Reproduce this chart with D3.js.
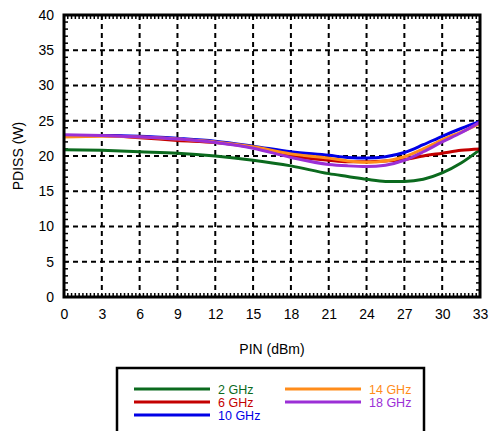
<!DOCTYPE html>
<html><head><meta charset="utf-8">
<script src="https://cdn.jsdelivr.net/npm/d3@7"></script>
<style>body{margin:0;background:#fff;} svg{display:block;font-family:"Liberation Sans",Arial,sans-serif;}</style>
</head><body>
<script>
const pin = [0,3,6,9,12,15,18,21,22.5,24,25.5,27,28.5,30,31.5,33];
const ghz2  = [20.9,20.8,20.6,20.4,20.0,19.4,18.6,17.5,17.1,16.7,16.4,16.4,16.7,17.6,19.0,20.9];
const ghz6  = [22.8,22.9,22.6,22.2,21.9,21.2,20.0,19.4,19.2,19.2,19.3,19.5,20.0,20.4,20.8,21.0];
const ghz10 = [22.9,22.9,22.8,22.5,22.1,21.4,20.6,20.1,19.8,19.7,19.9,20.5,21.6,22.8,23.9,24.9];
const ghz14 = [22.7,22.8,22.7,22.4,22.0,21.3,20.3,19.7,19.3,19.1,19.3,19.9,21.0,22.3,23.4,24.6];
const ghz18 = [23.0,22.9,22.7,22.4,21.9,21.1,19.8,18.8,18.6,18.5,18.7,19.4,20.6,22.0,23.3,24.8];
const seriesNames = ["2 GHz","6 GHz","10 GHz","14 GHz","18 GHz"];
const seriesColors = ["#0b6a1e","#c40000","#0000e6","#ff8c1a","#9b2fd6"];
const xTicks = [0,3,6,9,12,15,18,21,24,27,30,33];
const yTicks = [0,5,10,15,20,25,30,35,40];

const W=494,H=431;
const svg=d3.select("body").append("svg").attr("width",W).attr("height",H);
const x=d3.scaleLinear().domain([0,33]).range([64,480]);
const y=d3.scaleLinear().domain([0,40]).range([297,15]);

// grid
const g=svg.append("g");
g.selectAll(".vg").data(xTicks.filter(d=>d>0&&d<33)).enter().append("line")
 .attr("x1",d=>x(d)).attr("x2",d=>x(d)).attr("y1",y(40)).attr("y2",y(0))
 .attr("stroke","#000").attr("stroke-width",2).attr("stroke-dasharray","5,4");
g.selectAll(".hg").data(yTicks.filter(d=>d>0&&d<40)).enter().append("line")
 .attr("y1",d=>y(d)).attr("y2",d=>y(d)).attr("x1",x(0)).attr("x2",x(33))
 .attr("stroke","#000").attr("stroke-width",2).attr("stroke-dasharray","5,4");

// minor ticks
const xm=d3.range(0,33.01,0.3), ym=d3.range(0,40.01,1);
g.selectAll(".xmb").data(xm).enter().append("line").attr("x1",d=>x(d)).attr("x2",d=>x(d)).attr("y1",y(0)).attr("y2",y(0)-4).attr("stroke","#000").attr("stroke-width",1.5);
g.selectAll(".xmt").data(xm).enter().append("line").attr("x1",d=>x(d)).attr("x2",d=>x(d)).attr("y1",y(40)).attr("y2",y(40)+4).attr("stroke","#000").attr("stroke-width",1.5);
g.selectAll(".yml").data(ym).enter().append("line").attr("y1",d=>y(d)).attr("y2",d=>y(d)).attr("x1",x(0)).attr("x2",x(0)+4).attr("stroke","#000").attr("stroke-width",1.5);
g.selectAll(".ymr").data(ym).enter().append("line").attr("y1",d=>y(d)).attr("y2",d=>y(d)).attr("x1",x(33)).attr("x2",x(33)-4).attr("stroke","#000").attr("stroke-width",1.5);

// lines
const all=[ghz2,ghz6,ghz10,ghz14,ghz18];
const line=d3.line().x((d,i)=>x(pin[i])).y(d=>y(d)).curve(d3.curveMonotoneX);
all.forEach((s,k)=>{
  svg.append("path").datum(s).attr("d",line).attr("fill","none")
   .attr("stroke",seriesColors[k]).attr("stroke-width",3).attr("stroke-linejoin","round");
});

// frame
svg.append("rect").attr("x",x(0)).attr("y",y(40)).attr("width",x(33)-x(0)).attr("height",y(0)-y(40))
 .attr("fill","none").attr("stroke","#000").attr("stroke-width",3);

// axes labels
const xa=svg.append("g").attr("transform",`translate(0,${y(0)})`)
 .call(d3.axisBottom(x).tickValues(xTicks).tickSize(0).tickPadding(12));
xa.select(".domain").remove();
xa.selectAll("text").attr("font-size",14).attr("fill","#000").attr("font-family","Liberation Sans, Arial, sans-serif");
const ya=svg.append("g").attr("transform",`translate(${x(0)},0)`)
 .call(d3.axisLeft(y).tickValues(yTicks).tickSize(0).tickPadding(10));
ya.select(".domain").remove();
ya.selectAll("text").attr("font-size",14).attr("fill","#000").attr("font-family","Liberation Sans, Arial, sans-serif");

svg.append("text").attr("x",272).attr("y",354).attr("text-anchor","middle").attr("font-size",14).text("PIN (dBm)");
svg.append("text").attr("transform","translate(23,156) rotate(-90)").attr("text-anchor","middle").attr("font-size",14).text("PDISS (W)");

// legend
svg.append("rect").attr("x",117).attr("y",368).attr("width",307).attr("height",80)
 .attr("fill","#fff").attr("stroke","#000").attr("stroke-width",2.5);
const legPos=[[134,389],[134,402],[134,415],[285,389],[285,402]];
seriesNames.forEach((n,k)=>{
  const [lx,ly]=legPos[k];
  svg.append("line").attr("x1",lx).attr("x2",lx+76).attr("y1",ly).attr("y2",ly).attr("stroke",seriesColors[k]).attr("stroke-width",3);
  svg.append("text").attr("x",lx+84).attr("y",ly+4.5).attr("font-size",12.5).attr("fill",seriesColors[k]).text(n);
});
</script>
</body></html>
